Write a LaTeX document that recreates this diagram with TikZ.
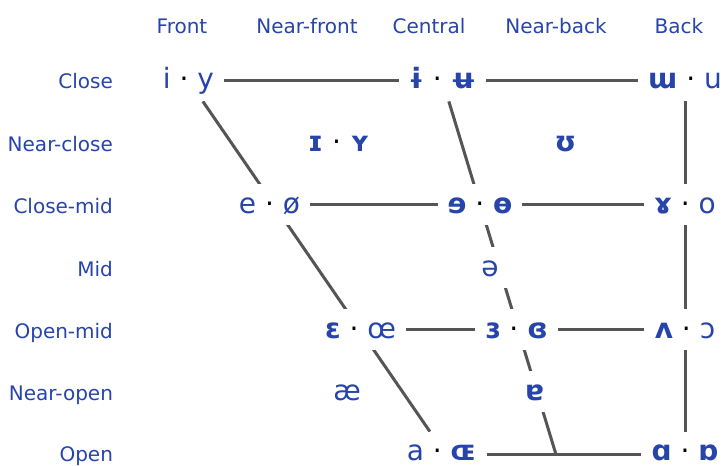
\documentclass[tikz,border=0pt]{standalone}
\usepackage{fontspec}
\setmainfont{DejaVu Sans}
\usepackage{tikz}
\usetikzlibrary{backgrounds}
\definecolor{IPABlue}{RGB}{38, 68, 170}
\definecolor{IPAGray}{RGB}{85, 85, 85}
\newcommand{\ipadot}{\textcolor{black}{·}}

\begin{document}
\begin{tikzpicture}[x=0.5pt, y=-0.5pt,
	vw/.style={anchor=base, font=\fontsize{14}{16}\selectfont, text=IPABlue,
		fill=white, inner xsep=5pt, inner ysep=3pt,
		text height=11.5pt, text depth=3pt},
	vwo/.style={vw, inner ysep=2.5pt, text depth=0pt},
	lb/.style={anchor=base east, font=\fontsize{10}{12}\selectfont, text=IPABlue},
	hd/.style={anchor=base, font=\fontsize{10}{12}\selectfont, text=IPABlue},
	ln/.style={IPAGray, line width=1.5pt}]
	\useasboundingbox (0,0) rectangle (726,465);
	% column heads
	\node[hd] (hF)  at (182,34) {Front};
	\node[hd] (hNF) at (307,34) {Near-front};
	\node[hd] (hC)  at (429,34) {Central};
	\node[hd] (hNB) at (556,34) {Near-back};
	\node[hd] (hB)  at (679,34) {Back};
	% row labels
	\node[lb] (rC)  at (120,89)  {Close};
	\node[lb] (rNC) at (120,151) {Near-close};
	\node[lb] (rCM) at (120,213) {Close-mid};
	\node[lb] (rM)  at (120,276) {Mid};
	\node[lb] (rOM) at (120,338) {Open-mid};
	\node[lb] (rNO) at (120,400) {Near-open};
	\node[lb] (rO)  at (120,461) {Open};
	% vowels
	\node[vw] (iy)  at (188.5,89) {i \ipadot{} y};
	\node[vw] (iu)  at (442.5,89) {\textbf{ɨ} \ipadot{} \textbf{ʉ}};
	\node[vw] (wu)  at (685,89)   {\textbf{ɯ} \ipadot{} u};
	\node[vw] (IY)  at (339,151)  {\textbf{ɪ} \ipadot{} \textbf{ʏ}};
	\node[vw] (U)   at (565.5,151) {\textbf{ʊ}};
	\node[vw] (eo)  at (269.5,213) {e \ipadot{} ø};
	\node[vw] (ee)  at (480,213)  {\textbf{ɘ} \ipadot{} \textbf{ɵ}};
	\node[vw] (go)  at (685,213)  {\textbf{ɤ} \ipadot{} o};
	\node[vw] (sw)  at (490,276)  {ə};
	\node[vw] (Eoe) at (360.5,338) {\textbf{ɛ} \ipadot{} œ};
	\node[vw] (rE)  at (516.5,338) {\textbf{ɜ} \ipadot{} \textbf{ɞ}};
	\node[vw] (vo)  at (685,338)  {\textbf{ʌ} \ipadot{} ɔ};
	\node[vw] (ae)  at (347,400)  {æ};
	\node[vw] (tA)  at (534.5,400) {\textbf{ɐ}};
	\node[vwo] (aOE) at (441.5,460) {a \ipadot{} \textbf{ɶ}};
	\node[vwo] (Ao)  at (685,460)  {\textbf{ɑ} \ipadot{} \textbf{ɒ}};
	\coordinate (jc) at (556,0 |- aOE.mid);
	% chart lines
	\begin{scope}[on background layer]
		\draw[ln] (iy) -- (wu);
		\draw[ln] (eo) -- (go);
		\draw[ln] (Eoe) -- (vo);
		\draw[ln] (aOE.mid east) -- (Ao.mid west);
		\draw[ln] (iy) -- (aOE);
		\draw[ln] (iu) -- (jc);
		\draw[ln] (wu) -- (Ao);
	\end{scope}
\end{tikzpicture}
\end{document}
